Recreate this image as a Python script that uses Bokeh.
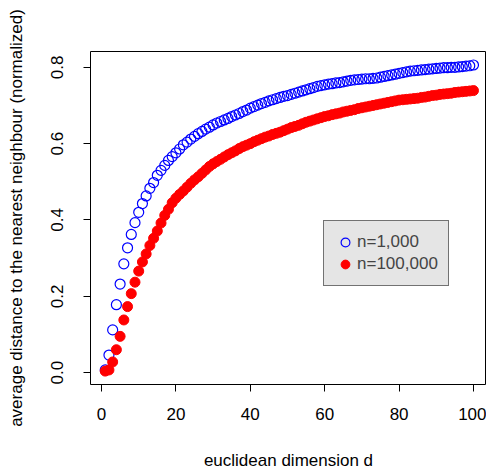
from bokeh.plotting import figure
from bokeh.models import Range1d, FixedTicker, Legend, LegendItem
from bokeh.embed import file_html
from bokeh.resources import INLINE

# ---- data ----
dims = list(range(1, 101))
dist_n1000 = [
    0.007, 0.046, 0.112, 0.178, 0.232, 0.285, 0.327, 0.362, 0.393, 0.420,
    0.443, 0.463, 0.483, 0.498, 0.517, 0.530, 0.543, 0.556, 0.566, 0.576,
    0.586, 0.597, 0.604, 0.612, 0.619, 0.626, 0.632, 0.638, 0.643, 0.649,
    0.654, 0.658, 0.662, 0.666, 0.671, 0.675, 0.679, 0.684, 0.688, 0.693,
    0.697, 0.701, 0.705, 0.708, 0.712, 0.715, 0.718, 0.721, 0.724, 0.726,
    0.729, 0.732, 0.735, 0.738, 0.741, 0.744, 0.747, 0.750, 0.752, 0.754,
    0.756, 0.757, 0.759, 0.760, 0.762, 0.764, 0.766, 0.767, 0.768, 0.769,
    0.770, 0.770, 0.771, 0.772, 0.774, 0.776, 0.778, 0.780, 0.782, 0.784,
    0.786, 0.788, 0.790, 0.791, 0.792, 0.793, 0.794, 0.795, 0.796, 0.797,
    0.798, 0.799, 0.799, 0.800, 0.800, 0.801, 0.802, 0.803, 0.804, 0.806,
]
dist_n100000 = [
    0.004, 0.007, 0.028, 0.060, 0.095, 0.138, 0.173, 0.207, 0.237, 0.266,
    0.290, 0.311, 0.333, 0.352, 0.371, 0.392, 0.412, 0.428, 0.445, 0.457,
    0.467, 0.476, 0.486, 0.496, 0.505, 0.513, 0.522, 0.531, 0.540, 0.547,
    0.553, 0.559, 0.565, 0.571, 0.576, 0.581, 0.587, 0.592, 0.596, 0.600,
    0.605, 0.609, 0.613, 0.617, 0.620, 0.624, 0.627, 0.630, 0.634, 0.638,
    0.642, 0.645, 0.648, 0.652, 0.656, 0.659, 0.662, 0.665, 0.668, 0.671,
    0.673, 0.676, 0.678, 0.680, 0.683, 0.685, 0.687, 0.689, 0.692, 0.694,
    0.696, 0.698, 0.700, 0.702, 0.704, 0.706, 0.708, 0.710, 0.712, 0.714,
    0.715, 0.716, 0.717, 0.718, 0.719, 0.721, 0.722, 0.724, 0.726, 0.727,
    0.729, 0.730, 0.731, 0.732, 0.734, 0.735, 0.736, 0.737, 0.738, 0.739,
]
series_labels = ["n=1,000", "n=100,000"]
x_ticks = [0, 20, 40, 60, 80, 100]
y_ticks = [0.0, 0.2, 0.4, 0.6, 0.8]
y_tick_labels = ["0.0", "0.2", "0.4", "0.6", "0.8"]
x_label = "euclidean dimension d"
y_label = "average distance to the nearest neighbour (normalized)"

FONT = "Liberation Sans"
FS = "17px"

p = figure(width=486, height=472, output_backend="svg", toolbar_location=None,
           x_range=Range1d(-2.96, 103.5), y_range=Range1d(-0.0311, 0.8414),
           min_border_left=90, min_border_right=0, min_border_top=51, min_border_bottom=84)
p.background_fill_color = "white"
p.border_fill_color = "white"
p.outline_line_color = "black"
p.outline_line_width = 1
p.xgrid.visible = False
p.ygrid.visible = False

r1 = p.scatter(dims, dist_n1000, marker="circle", size=10, fill_color=None,
               line_color="#0000ff", line_width=1.2)
r2 = p.scatter(dims, dist_n100000, marker="circle", size=10, fill_color="#ff0000",
               line_color="#ff0000", line_width=1)

for ax, ticks in ((p.xaxis[0], x_ticks), (p.yaxis[0], y_ticks)):
    ax.ticker = FixedTicker(ticks=ticks)
    ax.bounds = (ticks[0], ticks[-1])
    ax.minor_tick_line_color = None
    ax.major_tick_in = 0
    ax.major_tick_out = 7
    ax.axis_line_color = "black"
    ax.major_tick_line_color = "black"
    ax.major_label_text_font = FONT
    ax.major_label_text_font_size = FS
    ax.major_label_text_color = "black"
    ax.axis_label_text_font = FONT
    ax.axis_label_text_font_size = FS
    ax.axis_label_text_font_style = "normal"
    ax.axis_label_text_color = "black"

p.xaxis[0].axis_label = x_label
p.yaxis[0].axis_label = y_label
p.yaxis[0].major_label_overrides = {t: s for t, s in zip(y_ticks, y_tick_labels)}
p.yaxis[0].major_label_orientation = "vertical"
p.xaxis[0].major_label_standoff = 16
p.xaxis[0].axis_label_standoff = 28
p.yaxis[0].major_label_standoff = 20
p.yaxis[0].axis_label_standoff = 23

legend = Legend(items=[LegendItem(label=series_labels[0], renderers=[r1]),
                       LegendItem(label=series_labels[1], renderers=[r2])],
                location=(233, 98), margin=0, padding=10, spacing=0,
                glyph_width=22, glyph_height=22, label_standoff=1,
                label_text_font=FONT, label_text_font_size=FS,
                background_fill_color="#e5e5e5", background_fill_alpha=1,
                border_line_color="black", border_line_width=1)
p.add_layout(legend, "center")

open("out.html", "w").write(file_html(p, INLINE))
